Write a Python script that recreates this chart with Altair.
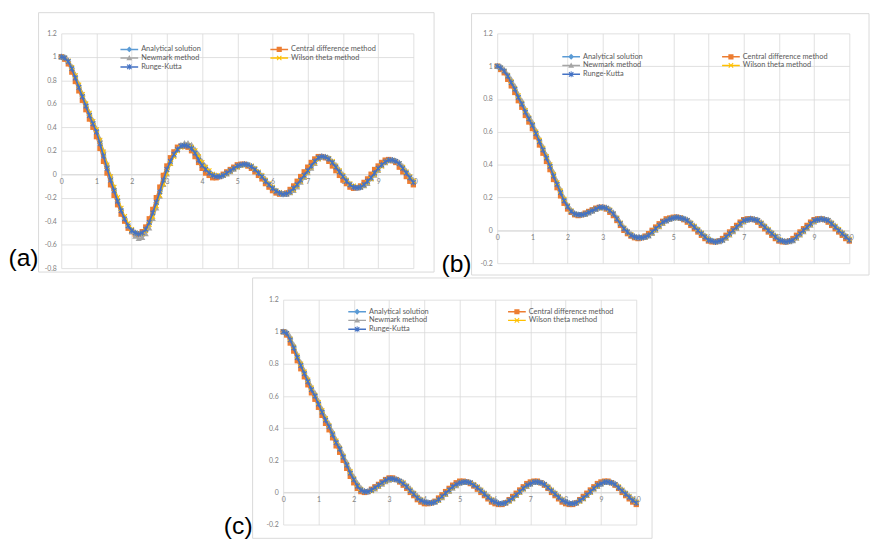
import altair as alt
import pandas as pd

# ---------------- data ----------------
TIME = [i / 10 for i in range(101)]  # t = 0 ... 10, step 0.1

SERIES = ["Analytical solution", "Central difference method", "Newmark method",
          "Wilson theta method", "Runge-Kutta"]
COLORS = ["#5B9BD5", "#ED7D31", "#A5A5A5", "#FFC000", "#4472C4"]

# panel (a)
ANA_A = [1.00, 0.99, 0.96, 0.90, 0.82, 0.74, 0.66, 0.58, 0.50, 0.43,
         0.36, 0.26, 0.155, 0.05, -0.05, -0.14, -0.23, -0.31, -0.38, -0.44,
         -0.48, -0.50, -0.51, -0.50, -0.47, -0.41, -0.33, -0.24, -0.15, -0.05,
         0.04, 0.11, 0.17, 0.21, 0.24, 0.245, 0.24, 0.22, 0.18, 0.12,
         0.075, 0.04, 0.01, -0.01, -0.02, -0.02, -0.01, 0.01, 0.03, 0.05,
         0.07, 0.08, 0.085, 0.08, 0.065, 0.04, 0.01, -0.02, -0.06, -0.09,
         -0.12, -0.145, -0.16, -0.17, -0.165, -0.15, -0.12, -0.09, -0.05, -0.01,
         0.03, 0.07, 0.11, 0.14, 0.15, 0.145, 0.13, 0.10, 0.06, 0.02,
         -0.02, -0.06, -0.09, -0.11, -0.115, -0.11, -0.09, -0.06, -0.03, 0.01,
         0.05, 0.08, 0.105, 0.12, 0.12, 0.11, 0.09, 0.05, 0.01, -0.03,
         -0.07]
CD_A = [1.00, 0.98, 0.94, 0.87, 0.79, 0.71, 0.63, 0.55, 0.47, 0.40,
        0.32, 0.22, 0.11, 0.01, -0.09, -0.18, -0.26, -0.34, -0.40, -0.46,
        -0.49, -0.51, -0.51, -0.49, -0.45, -0.38, -0.30, -0.20, -0.11, -0.01,
        0.07, 0.14, 0.19, 0.23, 0.24, 0.24, 0.23, 0.20, 0.15, 0.10,
        0.05, 0.01, -0.01, -0.03, -0.03, -0.02, 0.00, 0.02, 0.04, 0.06,
        0.08, 0.085, 0.085, 0.07, 0.05, 0.02, -0.01, -0.04, -0.08, -0.11,
        -0.14, -0.16, -0.17, -0.17, -0.16, -0.13, -0.10, -0.06, -0.02, 0.02,
        0.06, 0.10, 0.13, 0.15, 0.15, 0.14, 0.11, 0.07, 0.03, -0.01,
        -0.05, -0.08, -0.11, -0.12, -0.115, -0.10, -0.07, -0.04, 0.00, 0.04,
        0.07, 0.10, 0.12, 0.125, 0.115, 0.10, 0.06, 0.02, -0.02, -0.06,
        -0.09]
NM_A = [1.00, 1.00, 0.97, 0.92, 0.85, 0.77, 0.69, 0.61, 0.53, 0.46,
        0.39, 0.30, 0.20, 0.09, -0.01, -0.11, -0.20, -0.29, -0.37, -0.44,
        -0.49, -0.53, -0.55, -0.54, -0.51, -0.46, -0.38, -0.29, -0.19, -0.09,
        0.00, 0.09, 0.16, 0.21, 0.25, 0.265, 0.265, 0.25, 0.21, 0.17,
        0.11, 0.07, 0.03, 0.00, -0.01, -0.02, -0.01, 0.00, 0.02, 0.04,
        0.06, 0.075, 0.08, 0.08, 0.07, 0.05, 0.02, -0.01, -0.04, -0.08,
        -0.11, -0.14, -0.16, -0.175, -0.175, -0.16, -0.14, -0.11, -0.07, -0.03,
        0.01, 0.05, 0.09, 0.13, 0.15, 0.15, 0.14, 0.11, 0.08, 0.04,
        0.00, -0.04, -0.08, -0.10, -0.12, -0.115, -0.10, -0.08, -0.04, -0.01,
        0.03, 0.07, 0.095, 0.115, 0.12, 0.115, 0.10, 0.07, 0.03, -0.01,
        -0.05]
WT_A = [1.00, 0.99, 0.965, 0.91, 0.84, 0.76, 0.68, 0.60, 0.52, 0.45,
        0.38, 0.29, 0.19, 0.08, -0.02, -0.11, -0.20, -0.29, -0.36, -0.42,
        -0.47, -0.50, -0.51, -0.505, -0.48, -0.43, -0.36, -0.27, -0.18, -0.08,
        0.01, 0.09, 0.15, 0.20, 0.23, 0.245, 0.245, 0.23, 0.20, 0.15,
        0.10, 0.06, 0.03, 0.00, -0.01, -0.015, -0.01, 0.005, 0.025, 0.045,
        0.06, 0.075, 0.08, 0.08, 0.07, 0.05, 0.02, -0.01, -0.05, -0.08,
        -0.11, -0.14, -0.155, -0.165, -0.165, -0.155, -0.13, -0.10, -0.06, -0.02,
        0.02, 0.06, 0.10, 0.13, 0.145, 0.145, 0.135, 0.11, 0.07, 0.03,
        -0.01, -0.05, -0.08, -0.10, -0.11, -0.11, -0.095, -0.07, -0.04, 0.00,
        0.04, 0.07, 0.10, 0.115, 0.12, 0.11, 0.09, 0.06, 0.02, -0.02,
        -0.06]
RK_A = [1.00, 0.99, 0.96, 0.90, 0.82, 0.74, 0.66, 0.58, 0.50, 0.43,
        0.36, 0.26, 0.155, 0.05, -0.05, -0.14, -0.23, -0.31, -0.38, -0.44,
        -0.48, -0.50, -0.51, -0.50, -0.47, -0.41, -0.33, -0.24, -0.15, -0.05,
        0.04, 0.11, 0.17, 0.21, 0.24, 0.245, 0.24, 0.22, 0.18, 0.12,
        0.075, 0.04, 0.01, -0.01, -0.02, -0.02, -0.01, 0.01, 0.03, 0.05,
        0.07, 0.08, 0.085, 0.08, 0.065, 0.04, 0.01, -0.02, -0.06, -0.09,
        -0.12, -0.145, -0.16, -0.17, -0.165, -0.15, -0.12, -0.09, -0.05, -0.01,
        0.03, 0.07, 0.11, 0.14, 0.15, 0.145, 0.13, 0.10, 0.06, 0.02,
        -0.02, -0.06, -0.09, -0.11, -0.115, -0.11, -0.09, -0.06, -0.03, 0.01,
        0.05, 0.08, 0.105, 0.12, 0.12, 0.11, 0.09, 0.05, 0.01, -0.03,
        -0.07]

# panel (b)
ANA_B = [1.00, 0.99, 0.97, 0.94, 0.90, 0.86, 0.81, 0.77, 0.72, 0.68,
         0.64, 0.59, 0.54, 0.49, 0.44, 0.39, 0.33, 0.28, 0.23, 0.18,
         0.145, 0.115, 0.10, 0.095, 0.095, 0.10, 0.11, 0.12, 0.13, 0.14,
         0.14, 0.135, 0.12, 0.10, 0.07, 0.04, 0.01, -0.01, -0.03, -0.04,
         -0.045, -0.045, -0.04, -0.03, -0.01, 0.01, 0.03, 0.05, 0.06, 0.07,
         0.075, 0.08, 0.075, 0.07, 0.06, 0.04, 0.02, 0.00, -0.02, -0.04,
         -0.06, -0.065, -0.07, -0.065, -0.06, -0.04, -0.02, 0.00, 0.02, 0.04,
         0.06, 0.065, 0.07, 0.065, 0.06, 0.04, 0.02, 0.00, -0.02, -0.04,
         -0.06, -0.065, -0.07, -0.065, -0.06, -0.04, -0.02, 0.00, 0.02, 0.04,
         0.06, 0.065, 0.07, 0.065, 0.06, 0.04, 0.02, 0.00, -0.02, -0.04,
         -0.06]
CD_B = [1.00, 0.98, 0.96, 0.92, 0.88, 0.84, 0.79, 0.75, 0.70, 0.66,
        0.62, 0.57, 0.52, 0.47, 0.42, 0.37, 0.31, 0.26, 0.21, 0.165,
        0.13, 0.11, 0.095, 0.09, 0.095, 0.105, 0.115, 0.125, 0.135, 0.14,
        0.14, 0.13, 0.11, 0.09, 0.06, 0.03, 0.00, -0.02, -0.035, -0.045,
        -0.05, -0.045, -0.035, -0.02, 0.00, 0.02, 0.04, 0.055, 0.07, 0.075,
        0.08, 0.08, 0.075, 0.065, 0.05, 0.03, 0.01, -0.01, -0.03, -0.05,
        -0.065, -0.07, -0.07, -0.065, -0.05, -0.03, -0.01, 0.01, 0.03, 0.05,
        0.065, 0.07, 0.07, 0.065, 0.05, 0.03, 0.01, -0.01, -0.03, -0.05,
        -0.065, -0.07, -0.07, -0.065, -0.05, -0.03, -0.01, 0.01, 0.03, 0.05,
        0.065, 0.07, 0.07, 0.065, 0.05, 0.03, 0.01, -0.01, -0.03, -0.05,
        -0.065]
NM_B = [1.00, 1.00, 0.98, 0.95, 0.92, 0.88, 0.83, 0.79, 0.74, 0.70,
        0.66, 0.61, 0.56, 0.51, 0.46, 0.41, 0.355, 0.30, 0.25, 0.20,
        0.155, 0.125, 0.105, 0.095, 0.095, 0.095, 0.105, 0.115, 0.125, 0.135,
        0.14, 0.14, 0.13, 0.11, 0.08, 0.05, 0.02, 0.00, -0.02, -0.035,
        -0.045, -0.045, -0.045, -0.035, -0.02, 0.00, 0.02, 0.04, 0.055, 0.065,
        0.075, 0.075, 0.075, 0.07, 0.065, 0.05, 0.03, 0.01, -0.01, -0.03,
        -0.05, -0.06, -0.07, -0.07, -0.06, -0.05, -0.03, -0.01, 0.01, 0.03,
        0.05, 0.06, 0.07, 0.07, 0.065, 0.05, 0.03, 0.01, -0.01, -0.03,
        -0.05, -0.06, -0.07, -0.07, -0.065, -0.05, -0.03, -0.01, 0.01, 0.03,
        0.05, 0.06, 0.07, 0.07, 0.065, 0.05, 0.03, 0.01, -0.01, -0.03,
        -0.05]
WT_B = [1.00, 0.99, 0.97, 0.945, 0.905, 0.865, 0.82, 0.775, 0.73, 0.685,
        0.645, 0.60, 0.55, 0.50, 0.45, 0.40, 0.34, 0.29, 0.24, 0.19,
        0.15, 0.12, 0.10, 0.095, 0.095, 0.10, 0.11, 0.12, 0.13, 0.135,
        0.14, 0.135, 0.125, 0.10, 0.075, 0.045, 0.015, -0.01, -0.025, -0.04,
        -0.045, -0.045, -0.04, -0.03, -0.015, 0.005, 0.025, 0.045, 0.06, 0.07,
        0.075, 0.08, 0.075, 0.07, 0.06, 0.045, 0.025, 0.005, -0.015, -0.035,
        -0.055, -0.065, -0.07, -0.065, -0.06, -0.045, -0.025, -0.005, 0.015, 0.035,
        0.055, 0.065, 0.07, 0.065, 0.06, 0.045, 0.025, 0.005, -0.015, -0.035,
        -0.055, -0.065, -0.07, -0.065, -0.06, -0.045, -0.025, -0.005, 0.015, 0.035,
        0.055, 0.065, 0.07, 0.065, 0.06, 0.045, 0.025, 0.005, -0.015, -0.035,
        -0.055]
RK_B = [1.00, 0.99, 0.97, 0.94, 0.90, 0.86, 0.81, 0.77, 0.72, 0.68,
        0.64, 0.59, 0.54, 0.49, 0.44, 0.39, 0.33, 0.28, 0.23, 0.18,
        0.145, 0.115, 0.10, 0.095, 0.095, 0.10, 0.11, 0.12, 0.13, 0.14,
        0.14, 0.135, 0.12, 0.10, 0.07, 0.04, 0.01, -0.01, -0.03, -0.04,
        -0.045, -0.045, -0.04, -0.03, -0.01, 0.01, 0.03, 0.05, 0.06, 0.07,
        0.075, 0.08, 0.075, 0.07, 0.06, 0.04, 0.02, 0.00, -0.02, -0.04,
        -0.06, -0.065, -0.07, -0.065, -0.06, -0.04, -0.02, 0.00, 0.02, 0.04,
        0.06, 0.065, 0.07, 0.065, 0.06, 0.04, 0.02, 0.00, -0.02, -0.04,
        -0.06, -0.065, -0.07, -0.065, -0.06, -0.04, -0.02, 0.00, 0.02, 0.04,
        0.06, 0.065, 0.07, 0.065, 0.06, 0.04, 0.02, 0.00, -0.02, -0.04,
        -0.06]

# panel (c)
ANA_C = [1.00, 0.99, 0.95, 0.90, 0.84, 0.79, 0.74, 0.69, 0.64, 0.60,
         0.55, 0.50, 0.45, 0.41, 0.36, 0.31, 0.27, 0.22, 0.17, 0.12,
         0.08, 0.04, 0.015, 0.005, 0.005, 0.015, 0.03, 0.045, 0.06, 0.075,
         0.085, 0.085, 0.08, 0.07, 0.055, 0.035, 0.01, -0.01, -0.035, -0.05,
         -0.06, -0.065, -0.065, -0.06, -0.045, -0.025, -0.005, 0.015, 0.035, 0.05,
         0.06, 0.065, 0.065, 0.06, 0.045, 0.03, 0.01, -0.01, -0.03, -0.05,
         -0.06, -0.07, -0.07, -0.065, -0.05, -0.035, -0.015, 0.005, 0.025, 0.045,
         0.055, 0.065, 0.065, 0.06, 0.05, 0.03, 0.01, -0.01, -0.03, -0.05,
         -0.06, -0.07, -0.07, -0.065, -0.05, -0.035, -0.015, 0.005, 0.025, 0.045,
         0.055, 0.065, 0.065, 0.06, 0.05, 0.03, 0.01, -0.01, -0.03, -0.05,
         -0.065]
CD_C = [1.00, 0.98, 0.93, 0.88, 0.82, 0.77, 0.72, 0.67, 0.62, 0.58,
        0.53, 0.48, 0.43, 0.39, 0.34, 0.29, 0.25, 0.20, 0.15, 0.10,
        0.06, 0.025, 0.005, 0.00, 0.005, 0.02, 0.035, 0.05, 0.065, 0.08,
        0.09, 0.09, 0.08, 0.065, 0.045, 0.025, 0.00, -0.02, -0.045, -0.06,
        -0.07, -0.07, -0.065, -0.055, -0.035, -0.015, 0.005, 0.025, 0.045, 0.06,
        0.07, 0.07, 0.065, 0.055, 0.04, 0.02, 0.00, -0.02, -0.04, -0.06,
        -0.07, -0.075, -0.075, -0.065, -0.045, -0.025, -0.005, 0.015, 0.035, 0.055,
        0.065, 0.07, 0.07, 0.06, 0.045, 0.025, 0.00, -0.02, -0.04, -0.06,
        -0.07, -0.075, -0.075, -0.065, -0.045, -0.025, -0.005, 0.015, 0.035, 0.055,
        0.065, 0.07, 0.07, 0.06, 0.045, 0.025, 0.00, -0.02, -0.04, -0.06,
        -0.075]
NM_C = [1.00, 1.00, 0.97, 0.92, 0.86, 0.81, 0.76, 0.71, 0.66, 0.62,
        0.57, 0.52, 0.47, 0.43, 0.38, 0.33, 0.29, 0.24, 0.19, 0.14,
        0.10, 0.06, 0.03, 0.01, 0.005, 0.01, 0.02, 0.035, 0.05, 0.065,
        0.075, 0.08, 0.08, 0.075, 0.065, 0.045, 0.025, 0.00, -0.02, -0.04,
        -0.055, -0.06, -0.065, -0.06, -0.05, -0.035, -0.015, 0.005, 0.025, 0.04,
        0.055, 0.06, 0.065, 0.06, 0.05, 0.035, 0.02, 0.00, -0.02, -0.04,
        -0.055, -0.065, -0.07, -0.065, -0.055, -0.04, -0.02, 0.00, 0.02, 0.035,
        0.05, 0.06, 0.065, 0.06, 0.055, 0.04, 0.02, 0.00, -0.02, -0.04,
        -0.055, -0.065, -0.07, -0.065, -0.055, -0.04, -0.02, 0.00, 0.02, 0.035,
        0.05, 0.06, 0.065, 0.06, 0.055, 0.04, 0.02, 0.00, -0.02, -0.04,
        -0.055]
WT_C = [1.00, 0.99, 0.955, 0.905, 0.85, 0.80, 0.75, 0.70, 0.65, 0.605,
        0.56, 0.51, 0.46, 0.415, 0.365, 0.32, 0.275, 0.225, 0.175, 0.13,
        0.085, 0.045, 0.02, 0.005, 0.005, 0.01, 0.025, 0.04, 0.055, 0.07,
        0.08, 0.085, 0.08, 0.07, 0.06, 0.04, 0.015, -0.005, -0.03, -0.045,
        -0.06, -0.065, -0.065, -0.06, -0.05, -0.03, -0.01, 0.01, 0.03, 0.045,
        0.06, 0.065, 0.065, 0.06, 0.05, 0.035, 0.015, -0.005, -0.025, -0.045,
        -0.06, -0.07, -0.07, -0.065, -0.055, -0.04, -0.02, 0.00, 0.02, 0.04,
        0.055, 0.065, 0.065, 0.06, 0.05, 0.035, 0.015, -0.005, -0.025, -0.045,
        -0.06, -0.07, -0.07, -0.065, -0.055, -0.04, -0.02, 0.00, 0.02, 0.04,
        0.055, 0.065, 0.065, 0.06, 0.05, 0.035, 0.015, -0.005, -0.025, -0.045,
        -0.06]
RK_C = [1.00, 0.99, 0.95, 0.90, 0.84, 0.79, 0.74, 0.69, 0.64, 0.60,
        0.55, 0.50, 0.45, 0.41, 0.36, 0.31, 0.27, 0.22, 0.17, 0.12,
        0.08, 0.04, 0.015, 0.005, 0.005, 0.015, 0.03, 0.045, 0.06, 0.075,
        0.085, 0.085, 0.08, 0.07, 0.055, 0.035, 0.01, -0.01, -0.035, -0.05,
        -0.06, -0.065, -0.065, -0.06, -0.045, -0.025, -0.005, 0.015, 0.035, 0.05,
        0.06, 0.065, 0.065, 0.06, 0.045, 0.03, 0.01, -0.01, -0.03, -0.05,
        -0.06, -0.07, -0.07, -0.065, -0.05, -0.035, -0.015, 0.005, 0.025, 0.045,
        0.055, 0.065, 0.065, 0.06, 0.05, 0.03, 0.01, -0.01, -0.03, -0.05,
        -0.06, -0.07, -0.07, -0.065, -0.05, -0.035, -0.015, 0.005, 0.025, 0.045,
        0.055, 0.065, 0.065, 0.06, 0.05, 0.03, 0.01, -0.01, -0.03, -0.05,
        -0.065]

X_TICKS = [0, 1, 2, 3, 4, 5, 6, 7, 8, 9, 10]
Y_TICKS_A = [-0.8, -0.6, -0.4, -0.2, 0, 0.2, 0.4, 0.6, 0.8, 1, 1.2]
Y_TICKS_BC = [-0.2, 0, 0.2, 0.4, 0.6, 0.8, 1, 1.2]

# ---------------- styling ----------------
FONT = "Lato"
GRID = "#D9D9D9"
TXT = "#808080"

# glyphs in unit coordinates (scaled by the symbol size)
G_DIAMOND = "M0,-0.8L0.8,0L0,0.8L-0.8,0Z"
G_SQUARE = "M-0.7,-0.7H0.7V0.7H-0.7Z"
G_TRI = "M0,-0.8L0.8,0.6H-0.8Z"
G_X = "M-0.5,-0.7L0.7,0.5L0.5,0.7L-0.7,-0.5Z M-0.7,0.5L0.5,-0.7L0.7,-0.5L-0.5,0.7Z"
G_STAR = G_X + " M-0.12,-0.8H0.12V0.8H-0.12Z"
GLYPHS = [G_DIAMOND, G_SQUARE, G_TRI, G_X, G_STAR]
LINE_SEG = "M-2.4,-0.2H2.4V0.2H-2.4Z "

# legend is laid out column by column: left column first, then right column
LEG_ORDER = [0, 2, 4, 1, 3]
LEG_DOMAIN = [SERIES[i] for i in LEG_ORDER]
LEG_COLORS = [COLORS[i] for i in LEG_ORDER]
LEG_SHAPES = [LINE_SEG + GLYPHS[i] for i in LEG_ORDER]

ONE = pd.DataFrame({"k": [0]})


def panel(series_vals, ydom, yticks, w, h, frame, label, label_xy, leg_xy, colpad):
    for arr in series_vals:
        assert len(arr) == len(TIME)
    df = pd.DataFrame({
        "t": TIME * len(SERIES),
        "v": [x for arr in series_vals for x in arr],
        "series": [s for s in SERIES for _ in TIME],
    })
    y0 = h * ydom[1] / (ydom[1] - ydom[0])
    xenc = alt.X("t:Q", scale=alt.Scale(domain=[0, 10], nice=False, zero=False),
                 axis=alt.Axis(values=X_TICKS, title=None, grid=True, gridColor=GRID,
                               gridWidth=0.8, domain=True, domainColor=GRID, domainWidth=1,
                               ticks=False, labelFont=FONT, labelFontSize=7, labelColor=TXT,
                               labelPadding=3, labelFlush=False, labelOverlap=False,
                               offset=-(h - y0)))
    yenc = alt.Y("v:Q", scale=alt.Scale(domain=ydom, nice=False, zero=False),
                 axis=alt.Axis(values=yticks, title=None, grid=True, gridColor=GRID,
                               gridWidth=0.8, domain=False, ticks=False, labelFont=FONT,
                               labelFontSize=7, labelColor=TXT, labelPadding=5,
                               labelOverlap=False, labelExpr="'' + datum.value"))
    base = alt.Chart(df)
    one = alt.Chart(ONE)

    layers = [one.mark_rect(fill="white", fillOpacity=0, stroke=GRID, strokeWidth=1).encode(
        x=alt.value(frame[0]), x2=alt.value(frame[2]),
        y=alt.value(frame[1]), y2=alt.value(frame[3]))]
    for s, col, g in zip(SERIES, COLORS, GLYPHS):
        sub = base.transform_filter(alt.datum.series == s)
        layers.append(sub.mark_line(color=col, strokeWidth=1.8).encode(x=xenc, y=yenc))
        layers.append(sub.mark_point(shape=g, filled=True, size=60, color=col,
                                     opacity=1).encode(x=xenc, y=yenc))
    leg = alt.Legend(title=None, orient="none", legendX=leg_xy[0], legendY=leg_xy[1],
                     columns=2, columnPadding=colpad, rowPadding=1, padding=0,
                     symbolSize=56, symbolStrokeWidth=0, symbolOpacity=1,
                     symbolOffset=5, labelOffset=8, labelFont=FONT,
                     labelFontSize=7.5, labelColor="#595959")
    layers.append(base.transform_filter("false").mark_point(filled=True).encode(
        x=xenc, y=yenc,
        color=alt.Color("series:N", scale=alt.Scale(domain=LEG_DOMAIN, range=LEG_COLORS),
                        legend=leg),
        shape=alt.Shape("series:N", scale=alt.Scale(domain=LEG_DOMAIN, range=LEG_SHAPES),
                        legend=leg),
    ))
    layers.append(one.mark_text(text=label, align="right", baseline="alphabetic",
                                fontSize=25, font="Liberation Sans", color="black").encode(
        x=alt.value(label_xy[0]), y=alt.value(label_xy[1])))
    return alt.layer(*layers).properties(width=w, height=h)


pa = panel([ANA_A, CD_A, NM_A, WT_A, RK_A], [-0.8, 1.2], Y_TICKS_A, 357, 238,
           (-23, -21, 378, 242), "(a)", (-23, 236), (60, 12), 70)
pb = panel([ANA_B, CD_B, NM_B, WT_B, RK_B], [-0.2, 1.2], Y_TICKS_BC, 357, 233,
           (-26, -20, 377, 245), "(b)", (-26, 242), (66, 19.5), 80)
pc = panel([ANA_C, CD_C, NM_C, WT_C, RK_C], [-0.2, 1.2], Y_TICKS_BC, 358, 228,
           (-31, -22, 374, 242), "(c)", (-31, 238), (66, 8), 80)

# blank white block that pushes panel (c) to its place under the top row
SPACER_W = 164
spacer = alt.Chart(ONE).mark_rect(fill="white", strokeWidth=0).encode(
    x=alt.value(0), x2=alt.value(SPACER_W), y=alt.value(0), y2=alt.value(1)
).properties(width=SPACER_W, height=1)

top = alt.hconcat(pa, pb, spacing=6).resolve_scale(color="independent", shape="independent")
bottom = alt.hconcat(spacer, pc, spacing=0).resolve_scale(color="independent",
                                                          shape="independent")
chart = (alt.vconcat(top, bottom, spacing=0)
         .resolve_scale(color="independent", shape="independent")
         .configure_view(stroke=None)
         .properties(padding=0, background="white"))

chart.save("out.html", embed_options={"renderer": "svg", "actions": False})
